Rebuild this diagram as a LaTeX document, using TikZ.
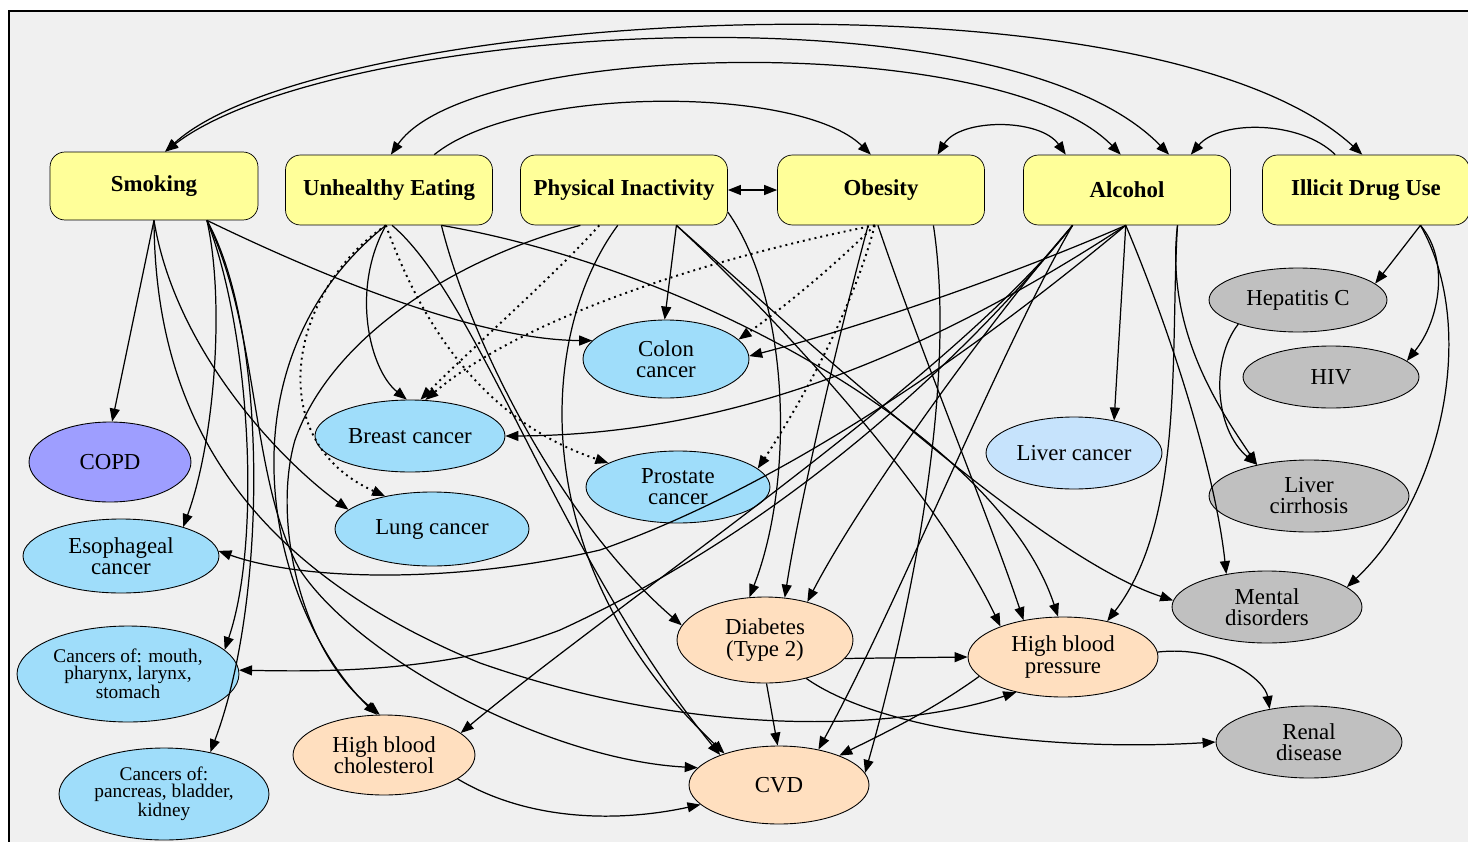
\documentclass[tikz,border=0pt]{standalone}
\usepackage{fontspec}
\setmainfont{Liberation Serif}
\usetikzlibrary{arrows.meta}
\usetikzlibrary{shapes.geometric}

\definecolor{boxyellow}{HTML}{FFFF99}
\definecolor{cancerblue}{HTML}{9FDDFA}
\definecolor{liverblue}{HTML}{C6E3FC}
\definecolor{copdblue}{HTML}{9E9EFF}
\definecolor{diseasegray}{HTML}{C0C0C0}
\definecolor{peach}{HTML}{FFDFBF}
\definecolor{paper}{HTML}{F0F0F0}

\tikzset{
  riskbox/.style={draw, rounded corners=3mm, fill=boxyellow, minimum width=41.4mm,
    minimum height=14mm, inner sep=0pt, font=\fontsize{13}{15}\selectfont\bfseries},
  outcome/.style={ellipse, draw, line width=0.5pt, inner sep=0pt, align=center,
    font=\fontsize{13}{12}\selectfont},
  smalltext/.style={font=\fontsize{11}{9.8}\selectfont},
  dims/.style 2 args={minimum width=#1mm, minimum height=#2mm},
  link/.style={->, line width=0.7pt},
  dotlink/.style={->, line width=1.1pt, dash pattern=on 1.1pt off 2.3pt}
}

\begin{document}
\begin{tikzpicture}[x=0.02cm, y=-0.02cm, >={Triangle[length=2.6mm,width=2mm]}]
\useasboundingbox (0,0) rectangle (1468,842);
\fill[white] (0,0) rectangle (1468,842);
\draw[line width=1.1pt, fill=paper] (9,11) rectangle (1490,870);

% risk factors
\node[riskbox, minimum width=41.6mm, minimum height=13.6mm] (smoking) at (154,186) {Smoking};
\node[riskbox] (eating) at (389,190) {Unhealthy Eating};
\node[riskbox] (inactive) at (624,190) {Physical Inactivity};
\node[riskbox] (obesity) at (881,190) {Obesity};
\node[riskbox] (alcohol) at (1127,190) {Alcohol};
\node[riskbox] (drugs) at (1366,190) {Illicit Drug Use};

% outcomes
\node[outcome, fill=copdblue, dims={32.4}{16}] (copd) at (110,462) {COPD};
\node[outcome, fill=cancerblue, dims={39.2}{14.8}] (esoph) at (121,556) {Esophageal\\cancer};
\node[outcome, smalltext, fill=cancerblue, dims={44.4}{19.2}] (mouth) at (128,674) {Cancers of: mouth,\\pharynx, larynx,\\stomach};
\node[outcome, smalltext, fill=cancerblue, dims={42}{18.4}] (pancreas) at (164,794) {Cancers of:\\pancreas, bladder,\\kidney};
\node[outcome, fill=cancerblue, dims={38}{14.4}] (breast) at (410,436) {Breast cancer};
\node[outcome, fill=cancerblue, dims={38.8}{14.8}] (lung) at (432,529) {Lung cancer};
\node[outcome, fill=cancerblue, dims={33.2}{15.6}] (colon) at (666,359) {Colon\\cancer};
\node[outcome, fill=cancerblue, dims={36.8}{14.4}] (prostate) at (678,487) {Prostate\\cancer};
\node[outcome, fill=liverblue, dims={35.2}{14.4}] (livercancer) at (1074,453) {Liver cancer};
\node[outcome, fill=diseasegray, dims={35.6}{12.8}] (hepc) at (1298,300) {Hepatitis C};
\node[outcome, fill=diseasegray, dims={35.2}{12.4}] (hiv) at (1331,377) {HIV};
\node[outcome, fill=diseasegray, dims={40}{14.4}] (cirrhosis) at (1309,496) {Liver\\cirrhosis};
\node[outcome, fill=diseasegray, dims={38}{14.4}] (mental) at (1267,607) {Mental\\disorders};
\node[outcome, fill=peach, dims={35.2}{17.2}] (diabetes) at (765,640) {Diabetes\\(Type 2)};
\node[outcome, fill=peach, dims={38}{16}] (hbp) at (1063,657) {High blood\\pressure};
\node[outcome, fill=peach, dims={36.4}{16}] (hbc) at (384,755) {High blood\\cholesterol};
\node[outcome, fill=peach, dims={36}{15.6}] (cvd) at (779,785) {CVD};
\node[outcome, fill=diseasegray, dims={37.2}{14.4}] (renal) at (1309,742) {Renal\\disease};

% arcs between risk factors
\draw[link, <->] (smoking.72) .. controls (320,10) and (1150,-40) .. (drugs.96);
\draw[link, <->] (smoking.72) .. controls (330,25) and (1000,-20) .. (alcohol.40);
\draw[link, <->] (eating.87) .. controls (470,40) and (1000,30) .. (alcohol.100);
\draw[link] (eating.38) .. controls (520,85) and (800,85) .. (obesity.106);
\draw[link, <->] (obesity.32) .. controls (960,118) and (1040,118) .. (alcohol.150);
\draw[link] (drugs.131) .. controls (1300,120) and (1220,120) .. (alcohol.29);
\draw[link, <->] (inactive.east) -- (obesity.west);

% smoking
\draw[link] (smoking.south) -- (copd.87);
\draw[link] (smoking.-33) .. controls (225,300) and (215,440) .. (esoph.25);
\draw[link] (smoking.-33) .. controls (250,330) and (262,540) .. (mouth.14);
\draw[link] (smoking.-33) .. controls (268,330) and (268,600) .. (pancreas.42);
\draw[link] (smoking.south) .. controls (175,350) and (280,460) .. (lung.167);
\draw[link] (smoking.-33) .. controls (330,280) and (480,340) .. (colon.166);
\draw[link] (smoking.south) .. controls (155,400) and (230,560) .. (480,663) .. controls (700,740) and (900,730) .. (hbp.217);
\draw[link] (smoking.-33) .. controls (260,330) and (250,480) .. (300,570) .. controls (360,660) and (550,760) .. (cvd.168);

% unhealthy eating
\draw[link] (eating.-95) .. controls (350,290) and (370,370) .. (breast.95);
\draw[dotlink] (eating.-95) .. controls (290,290) and (260,440) .. (lung.145);
\draw[dotlink] (eating.-95) .. controls (420,320) and (480,420) .. (prostate.161);
\draw[link] (eating.-95) .. controls (305,290) and (272,380) .. (274,470) .. controls (276,570) and (320,660) .. (hbc.100);
\draw[link] (eating.-34) .. controls (470,340) and (560,520) .. (diabetes.170);
\draw[link] (eating.-85) .. controls (480,300) and (560,560) .. (cvd.153);
\draw[link] (eating.-34) .. controls (700,270) and (1000,440) .. (hbp.97);

% physical inactivity
\draw[link] (inactive.-34) -- (colon.92);
\draw[dotlink] (inactive.-125) .. controls (560,270) and (470,350) .. (breast.74);
\draw[link] (inactive.-141) .. controls (450,260) and (330,340) .. (295,440) .. controls (272,520) and (300,650) .. (hbc.96);
\draw[link] (inactive.-100) .. controls (540,330) and (520,560) .. (cvd.150);
\draw[link] (inactive.-12) .. controls (790,300) and (795,480) .. (diabetes.110);
\draw[link] (inactive.-34) .. controls (800,340) and (940,500) .. (hbp.154);
\draw[link] (inactive.-34) .. controls (850,380) and (1050,560) .. (mental.176);

% obesity
\draw[dotlink] (obesity.-100) .. controls (700,260) and (520,320) .. (breast.67);
\draw[dotlink] (obesity.-100) .. controls (830,270) and (780,310) .. (colon.15);
\draw[dotlink] (obesity.-100) .. controls (850,320) and (790,420) .. (prostate.13);
\draw[link] (obesity.-110) .. controls (840,330) and (800,500) .. (diabetes.65);
\draw[link] (obesity.-34) .. controls (960,400) and (900,650) .. (cvd.8);
\draw[link] (obesity.-95) .. controls (920,350) and (990,520) .. (hbp.137);

% alcohol
\draw[link] (alcohol.-92) -- (livercancer.39);
\draw[link] (alcohol.-92) .. controls (1000,280) and (850,330) .. (colon.2);
\draw[link] (alcohol.-92) .. controls (950,340) and (750,435) .. (breast.0);
\draw[link] (alcohol.-92) .. controls (1000,330) and (800,480) .. (600,550) .. controls (450,585) and (300,580) .. (esoph.3);
\draw[link] (alcohol.-147) .. controls (980,340) and (800,520) .. (560,630) .. controls (450,672) and (330,672) .. (mouth.2);
\draw[link] (alcohol.-147) .. controls (950,380) and (620,600) .. (hbc.16);
\draw[link] (alcohol.-147) .. controls (990,320) and (860,500) .. (diabetes.42);
\draw[link] (alcohol.-147) .. controls (1000,350) and (900,600) .. (cvd.42);
\draw[link] (alcohol.-92) .. controls (1170,330) and (1215,470) .. (mental.141);
\draw[link] (alcohol.-35) .. controls (1170,350) and (1185,520) .. (hbp.39);
\draw[link] (alcohol.-35) .. controls (1165,330) and (1220,410) .. (cirrhosis.149);

% illicit drug use
\draw[link] (drugs.-33) -- (hepc.12);
\draw[link] (drugs.-33) .. controls (1450,260) and (1440,320) .. (hiv.12);
\draw[link] (drugs.-33) .. controls (1480,330) and (1440,500) .. (mental.14);
\draw[link] (hepc.202) .. controls (1210,360) and (1215,430) .. (cirrhosis.149);

% between outcomes
\draw[link] (diabetes.-13) -- (hbp.180);
\draw[link] (diabetes.-88) -- (cvd.92);
\draw[link] (diabetes.-43) .. controls (880,730) and (1050,752) .. (renal.180);
\draw[link] (hbp.-167) .. controls (930,712) and (880,735) .. (cvd.26);
\draw[link] (hbp.3) .. controls (1220,645) and (1265,680) .. (renal.140);
\draw[link] (hbc.-18) .. controls (530,822) and (620,822) .. (cvd.-166);
\end{tikzpicture}
\end{document}
